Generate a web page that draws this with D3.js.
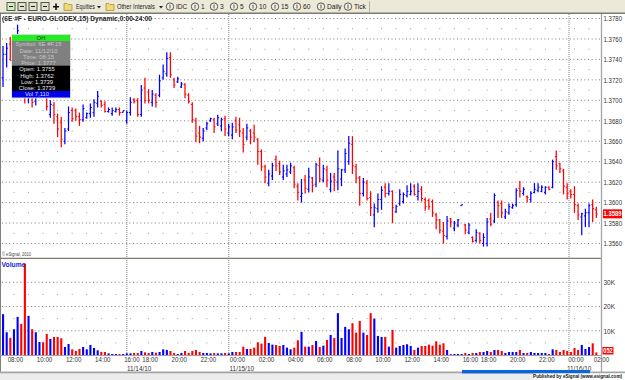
<!DOCTYPE html>
<html>
<head>
<meta charset="utf-8">
<title>6E #F 15 minute bars</title>
<script src="https://cdn.jsdelivr.net/npm/d3@7/dist/d3.min.js"></script>
<style>
html,body{margin:0;padding:0;background:#fff;}
svg{display:block;font-family:"Liberation Sans",Arial,sans-serif;}
</style>
</head>
<body>
<div id="chart"></div>
<script>
// 15 minute OHLC bars, one entry per bar
const highs = [
1.3753,1.3756,1.3762,1.3761,1.3774,1.3754,1.3739,1.3720,1.3715,1.3715,
1.3725,1.3730,1.3710,1.3700,1.3698,1.3687,1.3684,1.3673,1.3694,1.3693,
1.3692,1.3688,1.3696,1.3688,1.3697,1.3701,1.3709,1.3700,1.3699,1.3693,
1.3693,1.3693,1.3693,1.3690,1.3690,1.3703,1.3702,1.3702,1.3715,1.3722,
1.3711,1.3710,1.3707,1.3725,1.3735,1.3747,1.3747,1.3722,1.3723,1.3718,
1.3717,1.3707,1.3698,1.3683,1.3675,1.3673,1.3679,1.3683,1.3683,1.3686,
1.3683,1.3685,1.3677,1.3678,1.3684,1.3683,1.3673,1.3677,1.3672,1.3676,
1.3663,1.3652,1.3637,1.3632,1.3639,1.3646,1.3641,1.3637,1.3637,1.3639,
1.3636,1.3619,1.3623,1.3627,1.3634,1.3625,1.3639,1.3644,1.3637,1.3636,
1.3629,1.3629,1.3651,1.3633,1.3653,1.3665,1.3665,1.3638,1.3626,1.3624,
1.3622,1.3611,1.3599,1.3609,1.3616,1.3619,1.3619,1.3612,1.3598,1.3613,
1.3610,1.3617,1.3619,1.3618,1.3619,1.3616,1.3605,1.3604,1.3603,1.3590,
1.3584,1.3581,1.3587,1.3585,1.3582,1.3584,1.3598,1.3579,1.3580,1.3567,
1.3574,1.3571,1.3570,1.3585,1.3590,1.3609,1.3602,1.3602,1.3594,1.3599,
1.3599,1.3614,1.3621,1.3615,1.3607,1.3611,1.3619,1.3619,1.3617,1.3616,
1.3616,1.3642,1.3651,1.3639,1.3633,1.3619,1.3613,1.3616,1.3599,1.3590,
1.3594,1.3599,1.3603,1.3596];
const lows = [
1.3713,1.3732,1.3739,1.3730,1.3749,1.3720,1.3697,1.3697,1.3693,1.3695,
1.3703,1.3703,1.3690,1.3683,1.3677,1.3664,1.3654,1.3657,1.3670,1.3679,
1.3680,1.3675,1.3679,1.3682,1.3683,1.3684,1.3693,1.3693,1.3688,1.3688,
1.3685,1.3688,1.3685,1.3688,1.3677,1.3685,1.3697,1.3684,1.3684,1.3697,
1.3697,1.3694,1.3693,1.3703,1.3720,1.3723,1.3722,1.3712,1.3717,1.3712,
1.3702,1.3697,1.3678,1.3659,1.3658,1.3660,1.3671,1.3679,1.3668,1.3675,
1.3670,1.3665,1.3665,1.3662,1.3668,1.3664,1.3649,1.3661,1.3657,1.3659,
1.3637,1.3631,1.3619,1.3616,1.3622,1.3631,1.3627,1.3622,1.3625,1.3628,
1.3614,1.3602,1.3600,1.3609,1.3610,1.3610,1.3615,1.3620,1.3620,1.3615,
1.3610,1.3611,1.3612,1.3616,1.3629,1.3637,1.3628,1.3619,1.3597,1.3606,
1.3602,1.3587,1.3576,1.3590,1.3593,1.3605,1.3607,1.3580,1.3590,1.3597,
1.3599,1.3605,1.3607,1.3607,1.3602,1.3601,1.3592,1.3593,1.3586,1.3574,
1.3570,1.3560,1.3564,1.3576,1.3572,1.3576,1.3597,1.3569,1.3569,1.3561,
1.3561,1.3560,1.3557,1.3557,1.3577,1.3580,1.3585,1.3585,1.3584,1.3588,
1.3594,1.3596,1.3605,1.3607,1.3600,1.3600,1.3609,1.3610,1.3610,1.3608,
1.3612,1.3614,1.3632,1.3629,1.3608,1.3603,1.3604,1.3590,1.3583,1.3568,
1.3576,1.3576,1.3581,1.3585];
const opens = [
1.3722,1.3745,1.3755,1.3739,1.3753,1.3750,1.3727,1.3703,1.3712,1.3699,
1.3708,1.3722,1.3708,1.3686,1.3695,1.3684,1.3678,1.3660,1.3672,1.3690,
1.3690,1.3684,1.3681,1.3683,1.3687,1.3688,1.3697,1.3699,1.3696,1.3689,
1.3687,1.3689,1.3691,1.3688,1.3680,1.3688,1.3701,1.3700,1.3686,1.3712,
1.3708,1.3698,1.3705,1.3705,1.3722,1.3726,1.3742,1.3720,1.3718,1.3713,
1.3715,1.3705,1.3696,1.3680,1.3668,1.3663,1.3673,1.3680,1.3681,1.3677,
1.3675,1.3682,1.3668,1.3666,1.3680,1.3676,1.3668,1.3664,1.3670,1.3668,
1.3662,1.3650,1.3635,1.3619,1.3626,1.3642,1.3638,1.3625,1.3628,1.3630,
1.3634,1.3616,1.3606,1.3622,1.3613,1.3624,1.3618,1.3636,1.3622,1.3632,
1.3613,1.3625,1.3620,1.3623,1.3632,1.3640,1.3657,1.3635,1.3624,1.3609,
1.3619,1.3605,1.3588,1.3594,1.3603,1.3615,1.3609,1.3611,1.3591,1.3599,
1.3601,1.3607,1.3608,1.3616,1.3606,1.3613,1.3603,1.3602,1.3601,1.3588,
1.3583,1.3572,1.3567,1.3584,1.3575,1.3578,1.3597,1.3578,1.3571,1.3566,
1.3563,1.3570,1.3560,1.3560,1.3584,1.3582,1.3600,1.3599,1.3586,1.3590,
1.3595,1.3598,1.3614,1.3609,1.3606,1.3603,1.3610,1.3612,1.3611,1.3610,
1.3615,1.3615,1.3645,1.3638,1.3631,1.3615,1.3611,1.3608,1.3597,1.3586,
1.3587,1.3590,1.3598,1.3593];
const closes = [
1.3745,1.3751,1.3739,1.3752,1.3768,1.3726,1.3704,1.3714,1.3698,1.3710,
1.3720,1.3708,1.3694,1.3696,1.3686,1.3672,1.3662,1.3670,1.3688,1.3682,
1.3684,1.3681,1.3692,1.3687,1.3693,1.3698,1.3704,1.3695,1.3689,1.3691,
1.3690,1.3691,1.3688,1.3690,1.3688,1.3698,1.3699,1.3686,1.3710,1.3700,
1.3700,1.3706,1.3698,1.3719,1.3728,1.3741,1.3725,1.3715,1.3721,1.3716,
1.3706,1.3699,1.3681,1.3665,1.3664,1.3670,1.3677,1.3682,1.3674,1.3683,
1.3681,1.3672,1.3674,1.3674,1.3671,1.3670,1.3657,1.3673,1.3664,1.3664,
1.3650,1.3635,1.3625,1.3628,1.3636,1.3636,1.3630,1.3631,1.3632,1.3636,
1.3618,1.3610,1.3609,1.3614,1.3625,1.3617,1.3637,1.3623,1.3633,1.3622,
1.3621,1.3622,1.3633,1.3632,1.3648,1.3658,1.3636,1.3624,1.3609,1.3620,
1.3604,1.3595,1.3595,1.3603,1.3612,1.3609,1.3611,1.3595,1.3596,1.3608,
1.3608,1.3611,1.3611,1.3608,1.3611,1.3604,1.3596,1.3596,1.3590,1.3583,
1.3573,1.3568,1.3582,1.3581,1.3580,1.3583,1.3598,1.3573,1.3578,1.3562,
1.3571,1.3563,1.3566,1.3581,1.3579,1.3607,1.3597,1.3590,1.3591,1.3596,
1.3597,1.3612,1.3611,1.3613,1.3605,1.3609,1.3613,1.3615,1.3615,1.3615,
1.3613,1.3640,1.3636,1.3633,1.3616,1.3609,1.3608,1.3598,1.3588,1.3589,
1.3590,1.3597,1.3594,1.3589];
const volumes = [
16836,9384,7110,10626,15732,12834,37674,16146,10626,9384,
5382,5244,8694,6624,7452,7452,6900,3312,4554,2346,
1656,2484,3312,2346,4140,2898,1932,1242,1242,690,
414,414,414,414,690,690,828,828,1656,1104,
828,1242,966,1242,2346,2070,1656,828,414,828,
1656,828,1656,2070,1242,828,828,690,828,690,
690,828,690,1242,1242,1242,3450,2484,2484,3036,
5244,4692,7452,4968,4278,4140,3726,4140,3036,2346,
3036,6072,9522,3450,3450,4140,5796,3312,3864,6210,
8280,7038,17250,7038,11592,10626,13110,9246,14076,9246,
8280,17250,15042,7866,7452,7452,3450,10350,3036,3726,
4140,4416,3726,2070,3036,3726,3726,4278,3864,5658,
4278,4830,2070,414,414,414,414,828,414,828,
828,1242,1242,1656,1242,2070,2070,1656,828,1242,
1242,1242,2070,828,828,1242,828,828,828,828,
414,2346,2070,1242,2070,1656,1242,2898,2070,4140,
2484,3312,4830,1052];

const priceTicks = [1.378,1.376,1.374,1.372,1.370,1.368,1.366,1.364,1.362,1.360,1.358,1.356];
const priceHalfRows = [1.377,1.375,1.373,1.371,1.369,1.367,1.365,1.363,1.361,1.359,1.357];
const volumeTicks = [30000,20000,10000];
const volumeHalfRows = [25000,15000,5000];
const timeTickBars = [3,11,19,27,35,40,48,56,64,72,80,88,96,104,112,120,128,133,141,149,157,164];
const timeTickLabels = ["08:00","10:00","12:00","14:00","16:00","18:00","20:00","22:00","00:00","02:00","04:00","06:00","08:00","10:00","12:00","14:00","16:00","18:00","20:00","22:00","00:00","02:00"];
const dayBars = [34,62,155.5];
const dayLabels = ["11/14/10","11/15/10","11/16/10"];
const dayLabelBars = [37.4,65.6,158.3];
const hourDotBars = [3,7,11,15,19,23,27,31,35,40,44,48,52,56,60,64,68,72,76,80,84,88,92,96,100,104,108,112,116,120,124,128,133,137,141,145,149,153,157,161];

const infoGrey = ["Symbol: 6E #F,15","Date: 11/12/10","Time: 08:15","Price: 1.3777"];
const infoBlack = ["Open: 1.3755","High: 1.3762","Low: 1.3739","Close: 1.3739"];
const toolbarIntervals = ["IDC","1","3","5","10","15","60","Daily","Tick"];
const toolbarIntervalX = [170,195,214,234,253,275,297,321,348];

const W = 625, H = 380;
const BLUE = "#0000ff", RED = "#ff0000", GRID = "#7c7c7c";
const svg = d3.select("#chart").append("svg").attr("width",W).attr("height",H);
svg.append("rect").attr("width",W).attr("height",H).attr("fill","#fff");

const x = d3.scaleLinear().domain([0,163]).range([3,596.3]);
const y = d3.scaleLinear().domain([1.378,1.356]).range([18.5,243.5]);
const yVol = d3.scaleLinear().domain([0,30000]).range([355,282.3]);
const PANE_RIGHT = 601;
const color = i => closes[i] >= opens[i] ? BLUE : RED;

// ---- grid ----
const grid = svg.append("g");
function denseRows(scale, vals){
  grid.selectAll(null).data(vals).join("line")
    .attr("x1",2).attr("x2",PANE_RIGHT).attr("y1",scale).attr("y2",scale)
    .attr("stroke",GRID).attr("stroke-width",1).attr("stroke-dasharray","1 2.64");
}
function sparseRows(scale, vals){
  vals.forEach(v => {
    grid.selectAll(null).data(hourDotBars).join("rect")
      .attr("x",d=>x(d)-0.5).attr("y",scale(v)-0.5).attr("width",1).attr("height",1)
      .attr("fill","#9a9a9a");
  });
}
denseRows(y,priceTicks);
sparseRows(y,priceHalfRows);
denseRows(yVol,volumeTicks);
sparseRows(yVol,volumeHalfRows);

// day separators run through both panes
grid.selectAll(null).data(dayBars).join("line")
  .attr("x1",d=>x(d)).attr("x2",d=>x(d)).attr("y1",14).attr("y2",355)
  .attr("stroke","#a8a8a8").attr("stroke-width",1.4).attr("stroke-dasharray","1 1");

// ---- price bars ----
const bars = svg.append("g").selectAll("g").data(d3.range(highs.length)).join("g")
  .attr("stroke",color).attr("fill","none");
bars.append("line").attr("x1",x).attr("x2",x)
  .attr("y1",i=>y(highs[i])).attr("y2",i=>y(lows[i])).attr("stroke-width",1.25);
bars.append("line").attr("x1",i=>x(i)-1.4).attr("x2",x)
  .attr("y1",i=>y(opens[i])).attr("y2",i=>y(opens[i])).attr("stroke-width",1);
bars.append("line").attr("x1",x).attr("x2",i=>x(i)+1.4)
  .attr("y1",i=>y(closes[i])).attr("y2",i=>y(closes[i])).attr("stroke-width",1);

// ---- volume bars ----
svg.append("g").selectAll("rect").data(d3.range(volumes.length)).join("rect")
  .attr("x",i=>x(i)-1).attr("width",2.1)
  .attr("y",i=>yVol(volumes[i])).attr("height",i=>yVol(0)-yVol(volumes[i]))
  .attr("fill",color);

// ---- pane frames ----
const frame = svg.append("g").attr("fill","none");
frame.append("line").attr("x1",0.5).attr("x2",0.5).attr("y1",13).attr("y2",372).attr("stroke","#808080");
frame.append("line").attr("x1",0).attr("x2",PANE_RIGHT).attr("y1",258.4).attr("y2",258.4).attr("stroke","#7d7a68").attr("stroke-width",1.3);
frame.append("line").attr("x1",0).attr("x2",PANE_RIGHT).attr("y1",355.5).attr("y2",355.5).attr("stroke","#a0a0a0");
frame.append("line").attr("x1",PANE_RIGHT+0.5).attr("x2",PANE_RIGHT+0.5).attr("y1",13).attr("y2",372).attr("stroke","#a4a4a4").attr("stroke-width",1.3);

// ---- axes ----
// the narrow platform font is approximated by condensing each label to a fixed width
const axisFont = (g, width) => {
  g.select(".domain").remove();
  g.selectAll("text").attr("font-size",7).attr("fill","#333").attr("font-family","Liberation Sans")
    .attr("textLength",width).attr("lengthAdjust","spacingAndGlyphs");
};
svg.append("g").attr("transform",`translate(${PANE_RIGHT+1},0)`)
  .call(d3.axisRight(y).tickValues(priceTicks).tickFormat(d3.format(".4f")).tickSize(0).tickPadding(1.5))
  .call(axisFont,18.5);
svg.append("g").attr("transform",`translate(${PANE_RIGHT+1},0)`)
  .call(d3.axisRight(yVol).tickValues(volumeTicks).tickFormat(d=>d/1000+"K").tickSize(0).tickPadding(1.5))
  .call(axisFont,11.5);
svg.append("g").attr("transform","translate(1,356.5)")
  .call(d3.axisBottom(x).tickValues(timeTickBars).tickFormat((d,i)=>timeTickLabels[i]).tickSize(0).tickPadding(1))
  .call(axisFont,15.5);
svg.append("g").selectAll("text").data(dayLabels).join("text")
  .attr("x",(d,i)=>x(dayLabelBars[i])).attr("y",370.6).attr("text-anchor","middle")
  .attr("font-size",7).attr("fill","#333").attr("textLength",24.5).attr("lengthAdjust","spacingAndGlyphs").text(d=>d);

// last value flags on the axis
const lastClose = closes[closes.length-1], lastVol = volumes[volumes.length-1];
svg.append("rect").attr("x",603).attr("y",y(lastClose)-4.5).attr("width",19).attr("height",9).attr("fill",RED);
svg.append("text").attr("x",612.5).attr("y",y(lastClose)+2.6).attr("text-anchor","middle")
  .attr("font-size",7).attr("font-weight","bold").attr("fill","#fff")
  .attr("textLength",18).attr("lengthAdjust","spacingAndGlyphs").text(d3.format(".4f")(lastClose));
svg.append("rect").attr("x",602.5).attr("y",347).attr("width",11).attr("height",7.5).attr("fill",RED);
svg.append("text").attr("x",608).attr("y",353.3).attr("text-anchor","middle")
  .attr("font-size",6.6).attr("font-weight","bold").attr("fill","#fff")
  .attr("textLength",9.5).attr("lengthAdjust","spacingAndGlyphs").text(String(lastVol).slice(-3));

// ---- pane captions ----
svg.append("text").attr("x",2).attr("y",21).attr("font-size",7.8).attr("font-weight","bold").attr("fill","#222")
  .attr("textLength",150).attr("lengthAdjust","spacingAndGlyphs")
  .text("(6E #F - EURO-GLODEX,15) Dynamic,0:00-24:00");
svg.append("text").attr("x",2).attr("y",256).attr("font-size",4.8).attr("fill","#444")
  .attr("textLength",29).attr("lengthAdjust","spacingAndGlyphs").text("© eSignal, 2010");
svg.append("text").attr("x",1.5).attr("y",267).attr("font-size",7.6).attr("font-weight","bold").attr("fill","#2222dd")
  .attr("textLength",24).attr("lengthAdjust","spacingAndGlyphs").text("Volume");

// ---- cursor readout ----
const info = svg.append("g").attr("font-size",5.9).attr("text-anchor","middle");
info.append("rect").attr("x",11.5).attr("y",34).attr("width",59.5).attr("height",64.5).attr("fill","#d8d8d8");
info.append("rect").attr("x",12).attr("y",35).attr("width",58).attr("height",6).attr("fill","#22ee22");
info.append("rect").attr("x",12).attr("y",41).attr("width",58).attr("height",24.5).attr("fill","#808080");
info.append("rect").attr("x",12).attr("y",65.5).attr("width",58).attr("height",25.5).attr("fill","#000");
info.append("rect").attr("x",12).attr("y",91).attr("width",58).attr("height",6.5).attr("fill","#0000ee");
info.append("text").attr("x",41).attr("y",40).attr("fill","#124012").text("OH");
function infoRows(rows, y0, cx, fill){
  rows.forEach((r,i)=>{
    info.append("text").attr("x",cx).attr("y",y0 + i*6.3).attr("fill",fill).text(r);
  });
}
infoRows(infoGrey,46.2,38.5,"#c6c6c6");
infoRows(infoBlack,71.4,37,"#e6e6e6");
info.append("text").attr("x",37).attr("y",96.4).attr("fill","#dcdcff").text("Vol 7,110");

// ---- toolbar ----
const tb = svg.append("g").attr("font-size",6.6);
tb.append("rect").attr("width",W).attr("height",13).attr("fill","#ece9d8");
tb.append("rect").attr("y",12.6).attr("width",W).attr("height",1.2).attr("fill","#5f5d50");
tb.append("line").attr("x1",369.5).attr("x2",369.5).attr("y1",1).attr("y2",12).attr("stroke","#b5b2a0");
[[11,"#3f6f3f"],[22,"#555"],[33,"#555"],[45,"#555"]].forEach(([cx,c])=>{
  tb.append("rect").attr("x",cx-4).attr("y",2.5).attr("width",8).attr("height",8)
    .attr("fill","#dfe3c8").attr("stroke",c).attr("stroke-width",1);
  tb.append("line").attr("x1",cx-2).attr("x2",cx+2).attr("y1",6.5).attr("y2",6.5).attr("stroke","#222");
});
tb.append("path").attr("d","M56 3.5V10M53 6.7H59").attr("stroke","#111").attr("stroke-width",1.6).attr("fill","none");
[68,110].forEach(fx=>{
  tb.append("path").attr("d",`M${fx-4} 3.5h3l1 1h4v6h-8z`).attr("fill","#f2d873").attr("stroke","#9c8a3c").attr("stroke-width",0.7);
});
tb.append("text").attr("x",76).attr("y",9.2).attr("fill","#222")
  .attr("textLength",19).attr("lengthAdjust","spacingAndGlyphs").text("Equities");
tb.append("text").attr("x",117).attr("y",9.2).attr("fill","#222")
  .attr("textLength",38).attr("lengthAdjust","spacingAndGlyphs").text("Other Intervals");
[99,161].forEach(ax=>{ tb.append("path").attr("d",`M${ax-2} 6h4l-2 2.5z`).attr("fill","#222"); });
toolbarIntervals.forEach((t,i)=>{
  const cx = toolbarIntervalX[i];
  tb.append("circle").attr("cx",cx).attr("cy",6.6).attr("r",3.7).attr("fill","#f2f0e4").attr("stroke","#333").attr("stroke-width",0.8);
  tb.append("line").attr("x1",cx).attr("x2",cx).attr("y1",4.6).attr("y2",8.6).attr("stroke","#333").attr("stroke-width",0.8);
  tb.append("text").attr("x",cx+6).attr("y",9.2).attr("fill","#222").text(t);
});

// ---- status strip ----
const st = svg.append("g");
st.append("rect").attr("y",372).attr("width",W).attr("height",8).attr("fill","#ececec");
st.append("rect").attr("y",371.5).attr("width",W).attr("height",1.8).attr("fill","#a6a6a6");
st.append("rect").attr("x",462).attr("y",370).attr("width",128).attr("height",3.4).attr("fill","#0a66dd");
st.append("rect").attr("x",534).attr("y",373.5).attr("width",91).attr("height",6.5).attr("fill","#fff");
st.append("text").attr("x",622).attr("y",378).attr("text-anchor","end").attr("font-size",4.6).attr("font-weight","bold").attr("fill","#111")
  .text("Published by eSignal (www.esignal.com)");
</script>
</body>
</html>
